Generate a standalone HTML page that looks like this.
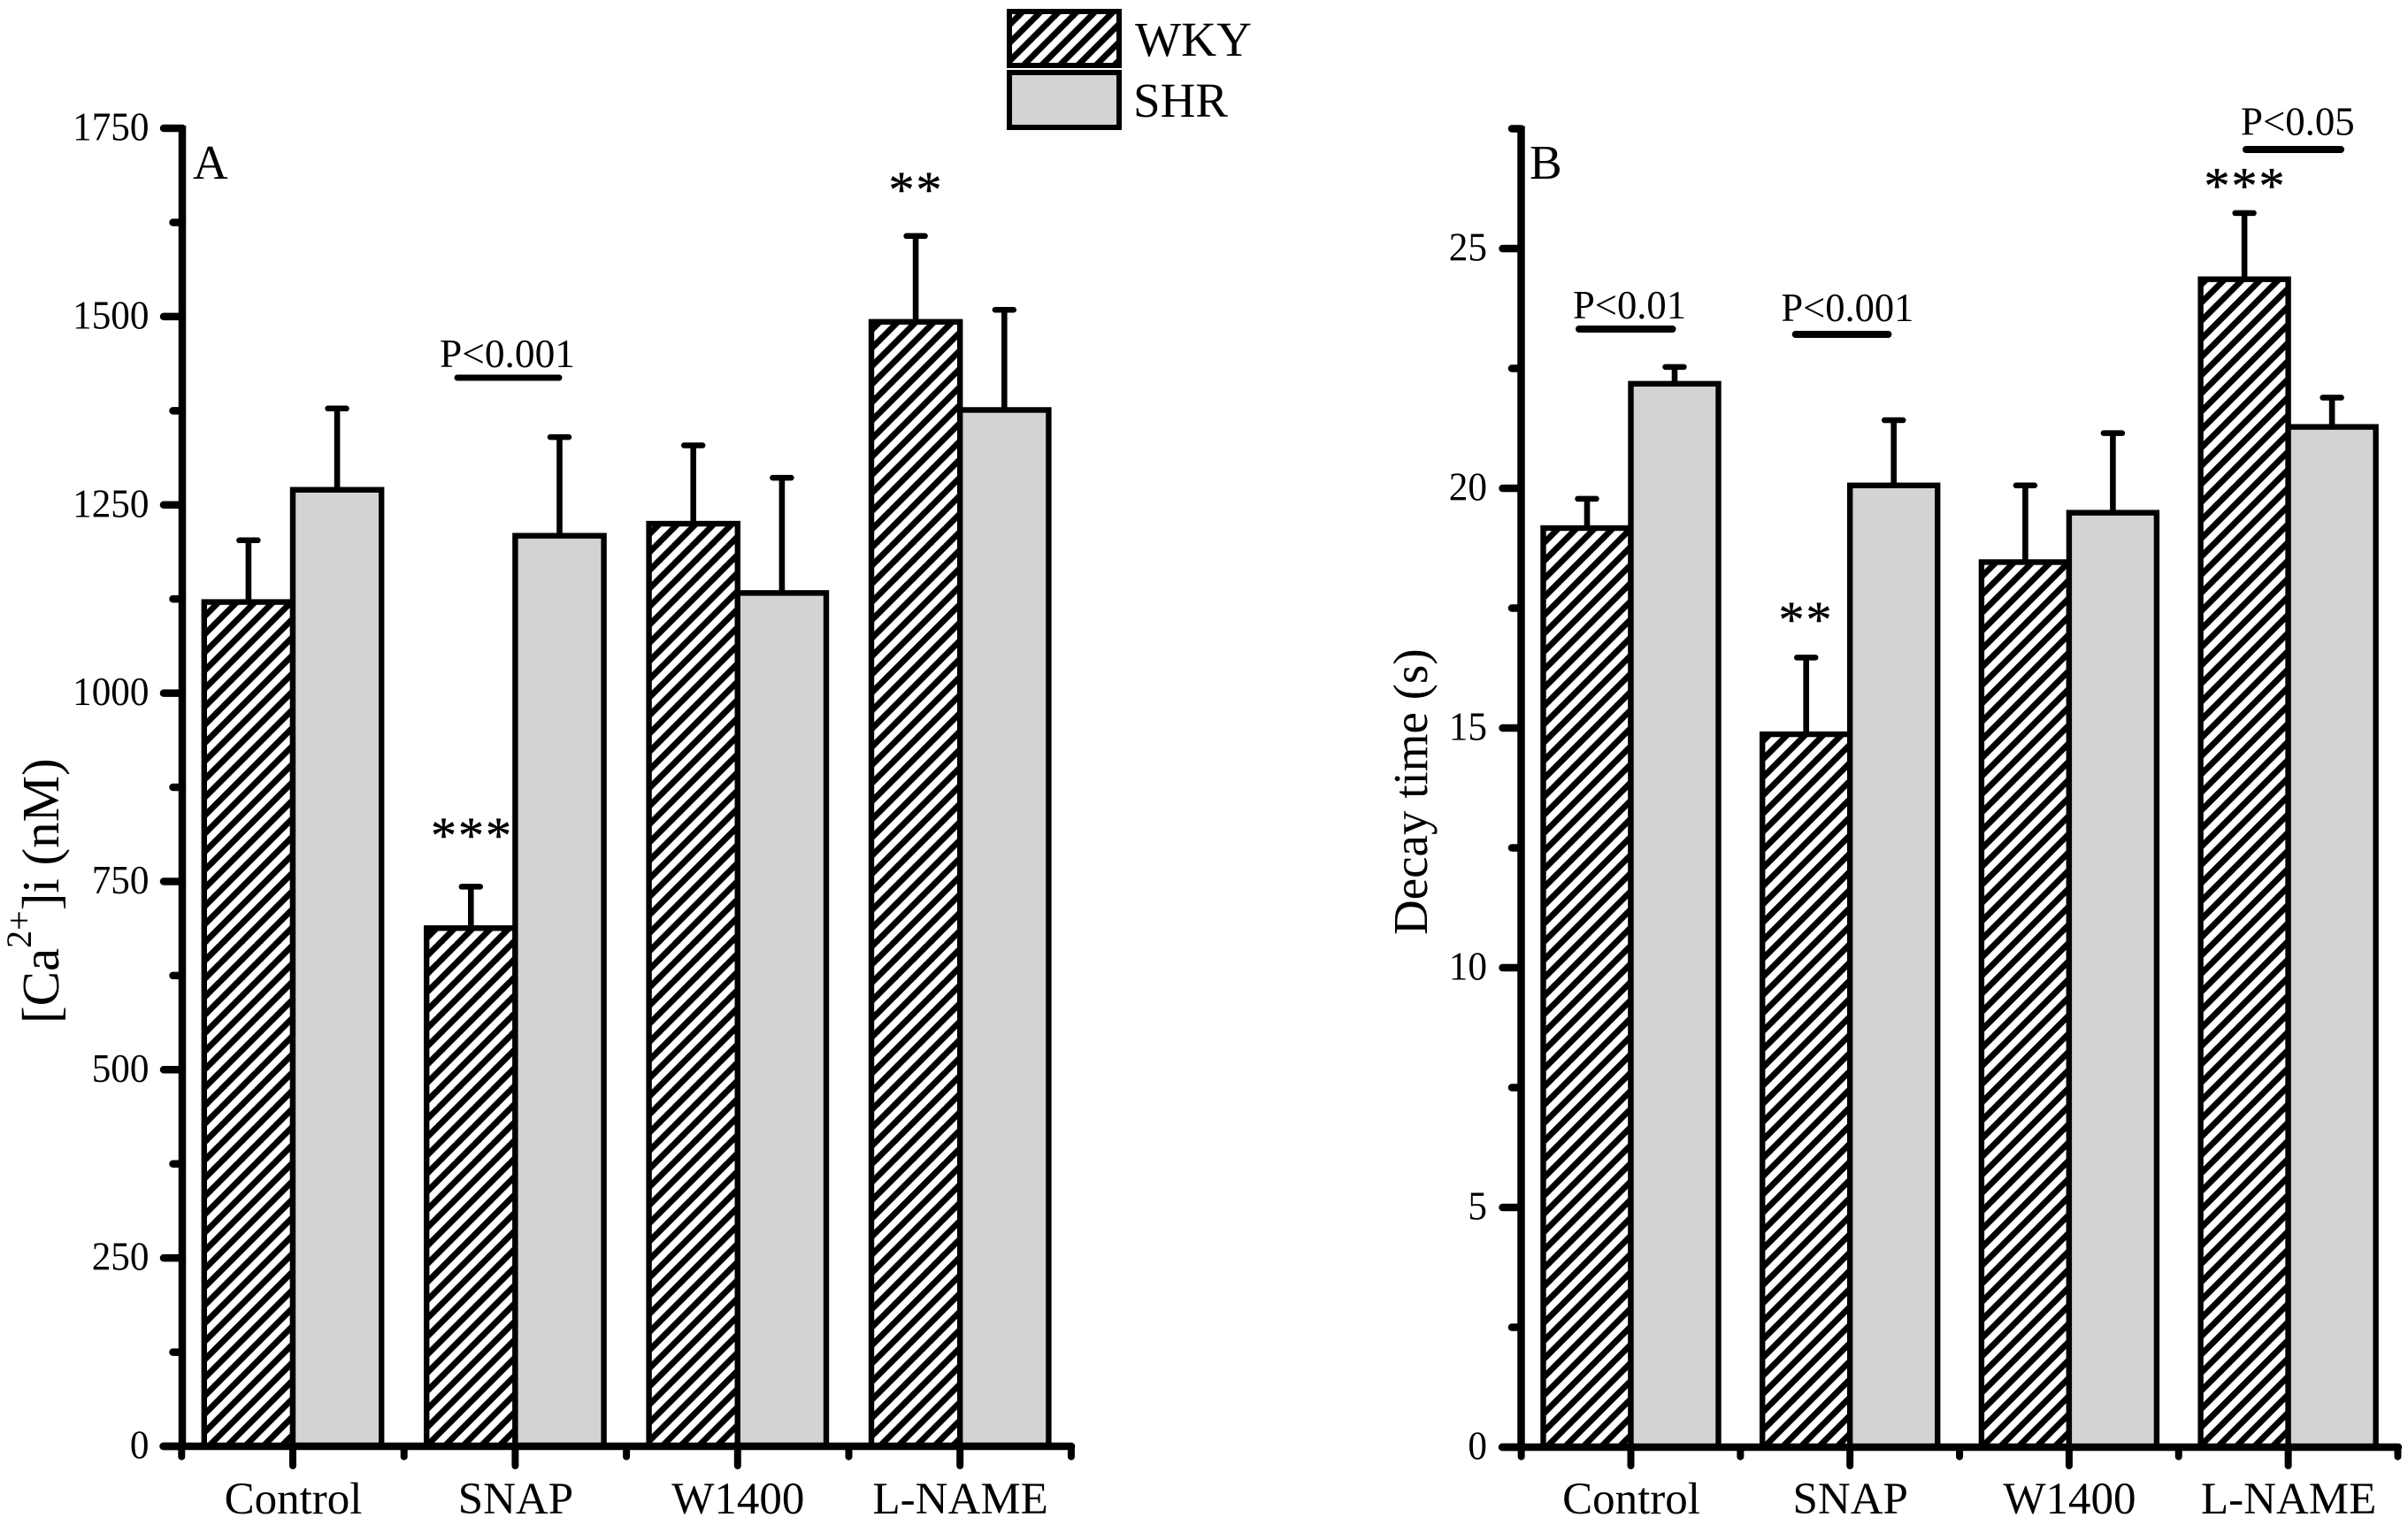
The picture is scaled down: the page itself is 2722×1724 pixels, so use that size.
<!DOCTYPE html>
<html>
<head>
<meta charset="utf-8">
<title>Calcium and decay time by treatment</title>
<style>
html,body{margin:0;padding:0;background:#fff;}
svg{display:block;}
text{font-family:"Liberation Serif","Times New Roman",serif;fill:#000;}
</style>
</head>
<body>
<svg id="figure" xmlns="http://www.w3.org/2000/svg" width="2722" height="1724" viewBox="0 0 2722 1724">
  <defs>
    <pattern id="hatch-a" patternUnits="userSpaceOnUse" width="20.5" height="20.5" patternTransform="translate(5.4,0)">
      <rect width="20.5" height="20.5" fill="#fff"/>
      <path d="M-5.125,25.625 L25.625,-5.125 M-15.375,15.375 L15.375,-15.375 M5.125,35.875 L35.875,5.125" stroke="#000" stroke-width="6.9" fill="none"/>
    </pattern>
    <pattern id="hatch-b" patternUnits="userSpaceOnUse" width="20.5" height="20.5" patternTransform="translate(1.5,0)">
      <rect width="20.5" height="20.5" fill="#fff"/>
      <path d="M-5.125,25.625 L25.625,-5.125 M-15.375,15.375 L15.375,-15.375 M5.125,35.875 L35.875,5.125" stroke="#000" stroke-width="6.9" fill="none"/>
    </pattern>
    <pattern id="hatch-legend" patternUnits="userSpaceOnUse" width="20.5" height="20.5" patternTransform="translate(0.7,0)">
      <rect width="20.5" height="20.5" fill="#fff"/>
      <path d="M-5.125,25.625 L25.625,-5.125 M-15.375,15.375 L15.375,-15.375 M5.125,35.875 L35.875,5.125" stroke="#000" stroke-width="6.9" fill="none"/>
    </pattern>
  </defs>
  <g id="panel-a"></g>
  <g id="panel-b"></g>

  <g>
    <rect x="1141" y="13" width="124" height="61" fill="url(#hatch-legend)" stroke="#000" stroke-width="6"/>
    <rect x="1141" y="82" width="124" height="62" fill="#d3d3d3" stroke="#000" stroke-width="6"/>
    <text x="1283" y="63" font-size="55" textLength="132" lengthAdjust="spacingAndGlyphs">WKY</text>
    <text x="1281" y="132" font-size="55">SHR</text>
  </g>

  <text x="218" y="202" font-size="55">A</text>
  <text x="1729" y="202" font-size="55">B</text>

  <text transform="translate(66,1157) rotate(-90)" font-size="59">[Ca<tspan dy="-31" font-size="40">2+</tspan><tspan dy="31">]i (nM)</tspan></text>
  <text transform="translate(1613,1057) rotate(-90)" font-size="55">Decay time (s)</text>

  <g>
    <text x="497" y="415" font-size="45" textLength="153" lengthAdjust="spacingAndGlyphs">P&lt;0.001</text>
    <line x1="517" x2="632" y1="427" y2="427" stroke="#000" stroke-width="7" stroke-linecap="round"/>
    <text x="487" y="964" font-size="58" letter-spacing="2" stroke="#000" stroke-width="0.5">***</text>
    <text x="1004.5" y="234" font-size="58" letter-spacing="2" stroke="#000" stroke-width="0.5">**</text>
  </g>
  <g>
    <text x="1778" y="360" font-size="45" textLength="128" lengthAdjust="spacingAndGlyphs">P&lt;0.01</text>
    <line x1="1785" x2="1890.5" y1="372" y2="372" stroke="#000" stroke-width="8" stroke-linecap="round"/>
    <text x="2013.4" y="363" font-size="45" textLength="150" lengthAdjust="spacingAndGlyphs">P&lt;0.001</text>
    <line x1="2029.7" x2="2134.4" y1="378" y2="378" stroke="#000" stroke-width="8" stroke-linecap="round"/>
    <text x="2533" y="152.3" font-size="45" textLength="128.7" lengthAdjust="spacingAndGlyphs">P&lt;0.05</text>
    <line x1="2539" x2="2646" y1="169" y2="169" stroke="#000" stroke-width="8" stroke-linecap="round"/>
    <text x="2010.5" y="720" font-size="58" letter-spacing="2" stroke="#000" stroke-width="0.5">**</text>
    <text x="2491.5" y="229.5" font-size="58" letter-spacing="2" stroke="#000" stroke-width="0.5">***</text>
  </g>
</svg>

<script>
// Data
const categories = ['Control', 'SNAP', 'W1400', 'L-NAME'];
const seriesNames = ['WKY', 'SHR'];

const calciumWky = [1121, 688, 1225, 1493];
const calciumWkyErr = [82, 55, 104, 114];
const calciumShr = [1270, 1209, 1133, 1376];
const calciumShrErr = [108, 131, 153, 133];
const calciumMajorTicks = [0, 250, 500, 750, 1000, 1250, 1500, 1750];
const calciumMinorTicks = [125, 375, 625, 875, 1125, 1375, 1625];

const decayWky = [19.17, 14.87, 18.46, 24.36];
const decayWkyErr = [0.61, 1.6, 1.6, 1.38];
const decayShr = [22.18, 20.06, 19.49, 21.28];
const decayShrErr = [0.35, 1.36, 1.66, 0.61];
const decayMajorTicks = [0, 5, 10, 15, 20, 25];
const decayMinorTicks = [2.5, 7.5, 12.5, 17.5, 22.5, 27.5];

const SVGNS = 'http://www.w3.org/2000/svg';

function make(parent, tag, attrs, text) {
  const el = document.createElementNS(SVGNS, tag);
  for (const k in attrs) el.setAttribute(k, attrs[k]);
  if (text !== undefined) el.textContent = text;
  parent.appendChild(el);
  return el;
}

function drawPanel(root, cfg, wky, wkyErr, shr, shrErr, majors, minors) {
  const y = v => cfg.y0 - v * cfg.yScale;
  const cx = i => cfg.x0 + i * cfg.step;
  const yMax = Math.max.apply(null, majors.concat(minors));

  // Bars
  categories.forEach((cat, i) => {
    const pairs = [
      {v: wky[i], e: wkyErr[i], left: cx(i) - cfg.barW, fill: cfg.hatch, s: seriesNames[0]},
      {v: shr[i], e: shrErr[i], left: cx(i), fill: '#d3d3d3', s: seriesNames[1]}
    ];
    pairs.forEach(p => {
      const mid = p.left + cfg.barW / 2;
      const stem = make(root, 'line', {x1: mid, x2: mid, y1: y(p.v), y2: y(p.v + p.e), stroke: '#000', 'stroke-width': 6.6});
      
      
      const cap = make(root, 'line', {x1: mid - 10.5, x2: mid + 10.5, y1: y(p.v + p.e), y2: y(p.v + p.e), stroke: '#000', 'stroke-width': 6.5, 'stroke-linecap': 'round'});
      
      
      const bar = make(root, 'rect', {x: p.left, y: y(p.v), width: cfg.barW, height: cfg.y0 - y(p.v), fill: p.fill, stroke: '#000', 'stroke-width': 6.4});
      
      
      bar.setAttribute('aria-label', cat + ' ' + p.s);
    });
  });

  // Y axis
  const yAxis = make(root, 'line', {x1: cfg.yAxisX, x2: cfg.yAxisX, y1: y(yMax) - 3, y2: cfg.y0, stroke: '#000', 'stroke-width': 8.5});
  
  

  majors.forEach(t => {
    const tick = make(root, 'line', {x1: cfg.yAxisX, x2: cfg.yAxisX - 21, y1: y(t), y2: y(t), stroke: '#000', 'stroke-width': 8.5, 'stroke-linecap': 'round'});
    
    
    const s = String(t);
    const lab = make(root, 'text', {x: cfg.yLabelX, y: y(t) + 13.5, 'font-size': 45, 'text-anchor': 'end', textLength: s.length * 21.6, lengthAdjust: 'spacingAndGlyphs'}, s);
    
    
  });
  minors.forEach(t => {
    const tick = make(root, 'line', {x1: cfg.yAxisX, x2: cfg.yAxisX - 10.5, y1: y(t), y2: y(t), stroke: '#000', 'stroke-width': 8.5, 'stroke-linecap': 'round'});
    
    
  });

  // X axis
  const xAxis = make(root, 'line', {x1: cfg.xStart, x2: cfg.xEnd, y1: cfg.y0, y2: cfg.y0, stroke: '#000', 'stroke-width': 8.5, 'stroke-linecap': 'round'});
  
  

  categories.forEach((cat, i) => {
    const major = make(root, 'line', {x1: cx(i), x2: cx(i), y1: cfg.y0, y2: 1657, stroke: '#000', 'stroke-width': 8, 'stroke-linecap': 'round'});
    
    
    const lab = make(root, 'text', {x: cx(i) + 0.5, y: 1711, 'font-size': 51, 'text-anchor': 'middle'}, cat);
    
    
  });
  for (let i = 0; i <= categories.length; i++) {
    const mx = cx(i) - cfg.step / 2;
    const minor = make(root, 'line', {x1: mx, x2: mx, y1: cfg.y0, y2: 1646.7, stroke: '#000', 'stroke-width': 8, 'stroke-linecap': 'round'});
    
    
  }
}

drawPanel(document.getElementById('panel-a'),
  {y0: 1635, yScale: 0.8514, x0: 331, step: 251.4, barW: 100.2, hatch: 'url(#hatch-a)', yAxisX: 206, yLabelX: 168.5, xStart: 184.5, xEnd: 1211},
  calciumWky, calciumWkyErr, calciumShr, calciumShrErr, calciumMajorTicks, calciumMinorTicks);

drawPanel(document.getElementById('panel-b'),
  {y0: 1636, yScale: 54.2, x0: 1843.5, step: 247.7, barW: 99, hatch: 'url(#hatch-b)', yAxisX: 1719.5, yLabelX: 1681, xStart: 1698, xEnd: 2711},
  decayWky, decayWkyErr, decayShr, decayShrErr, decayMajorTicks, decayMinorTicks);
</script>
</body>
</html>
